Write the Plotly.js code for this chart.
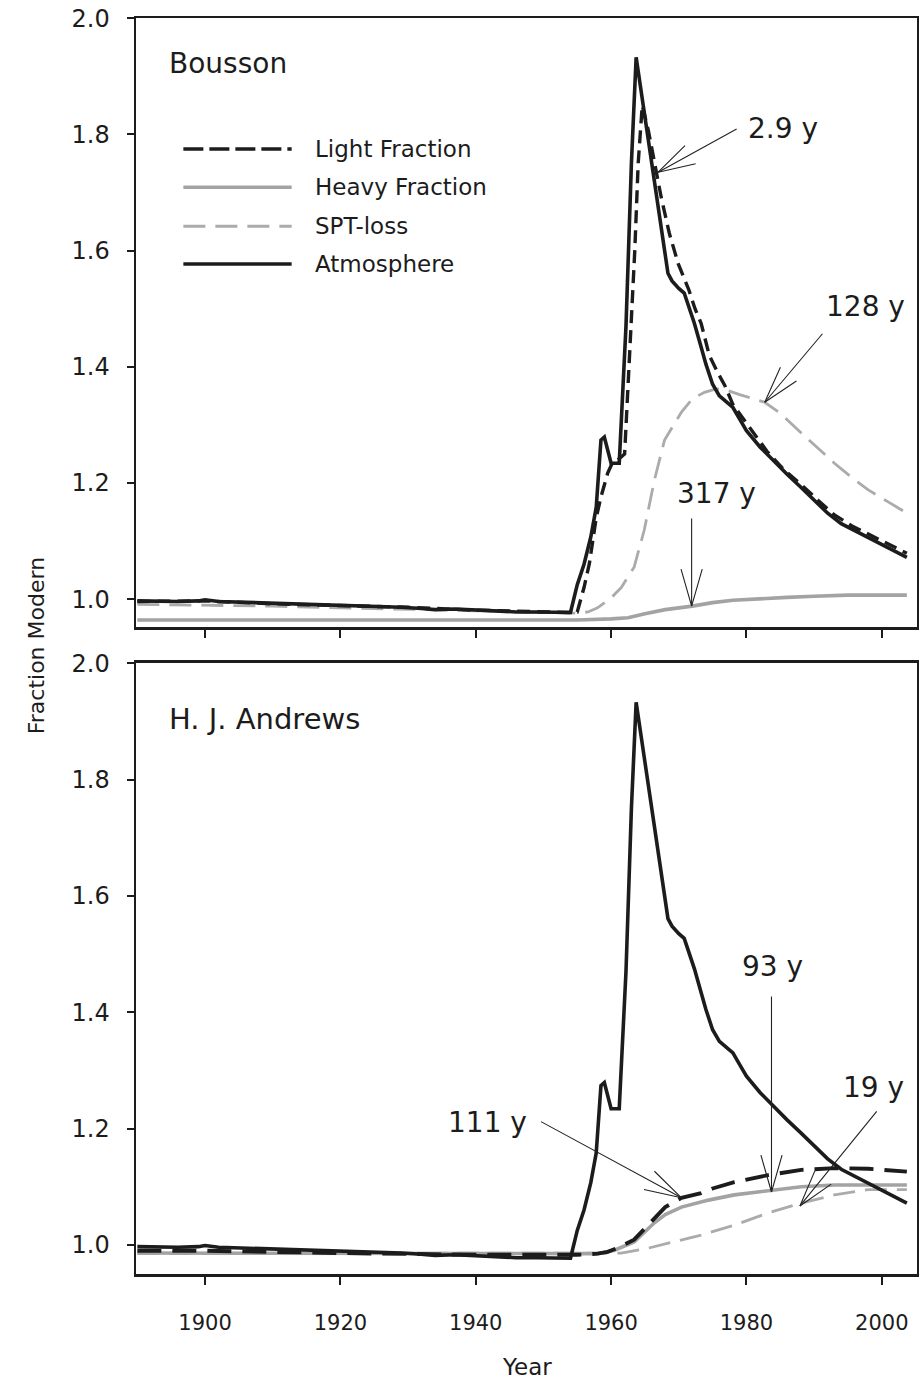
<!DOCTYPE html>
<html>
<head>
<meta charset="utf-8">
<script src="https://cdn.plot.ly/plotly-3.0.1.min.js"></script>
<style>html,body{margin:0;padding:0;background:#fff;}#chart{width:919px;height:1386px;}</style>
</head>
<body>
<div id="chart"></div>
<script>
// ---------- DATA ----------
const atmYears = [1890,1893,1896,1899,1900,1902,1905,1908,1911,1914,1917,1920,1923,1926,1929,1932,1934,1937,1940,1943,1946,1949,1952,1954,1955,1956,1957,1957.8,1958.5,1959,1960,1961.2,1962.2,1963,1963.7,1964,1965,1966,1967,1968,1968.4,1969,1970,1970.8,1972.3,1973.3,1974,1975,1976,1977,1978,1979,1980,1982,1984,1986,1988,1990,1992,1994,1996,1998,2000,2002,2003.7];
const atmValues = [0.997,0.996,0.996,0.997,0.999,0.996,0.995,0.994,0.992,0.992,0.991,0.989,0.988,0.987,0.986,0.984,0.982,0.983,0.981,0.980,0.978,0.978,0.977,0.977,1.025,1.060,1.107,1.158,1.274,1.279,1.234,1.234,1.470,1.750,1.933,1.909,1.830,1.751,1.672,1.593,1.561,1.548,1.535,1.527,1.475,1.434,1.405,1.370,1.350,1.340,1.330,1.310,1.290,1.262,1.238,1.215,1.193,1.170,1.148,1.130,1.118,1.107,1.095,1.083,1.072];

// Bousson
const bouLightYears = [1890,1900,1910,1920,1930,1940,1950,1954,1955,1956,1956.8,1957.8,1958.5,1959.5,1960.2,1961,1962,1962.9,1963.5,1964,1964.6,1965.5,1966.5,1967.4,1968.6,1969.9,1971.5,1972.4,1973.3,1974.5,1975.8,1976.8,1978,1980.7,1983,1985.6,1988,1990.6,1993,1995.6,1998,2000.5,2003.7];
const bouLight = [0.996,0.997,0.992,0.989,0.986,0.981,0.978,0.977,0.978,1.020,1.062,1.140,1.176,1.217,1.235,1.240,1.250,1.463,1.600,1.750,1.850,1.807,1.748,1.692,1.630,1.578,1.532,1.500,1.475,1.420,1.389,1.368,1.335,1.291,1.255,1.222,1.198,1.170,1.145,1.126,1.112,1.099,1.079];
const bouHeavyYears = [1890,1955,1960,1962.5,1965,1968,1972,1975,1978,1982,1986,1990,1995,2003.7];
const bouHeavy = [0.964,0.964,0.966,0.968,0.975,0.982,0.988,0.994,0.998,1.001,1.003,1.005,1.007,1.007];
const bouSptYears = [1890,1900,1910,1920,1930,1940,1950,1955,1956.6,1958,1960,1961.5,1963.4,1964.9,1966.4,1967.9,1970.4,1972,1973.8,1975.5,1977,1979,1982.7,1985,1988.1,1990.5,1993,1995.5,1998,2001,2003.7];
const bouSpt = [0.991,0.990,0.988,0.985,0.983,0.980,0.977,0.976,0.978,0.985,1.002,1.020,1.055,1.119,1.205,1.274,1.322,1.345,1.356,1.362,1.360,1.352,1.339,1.320,1.286,1.260,1.234,1.210,1.188,1.167,1.148];

// H. J. Andrews
const hjaLightYears = [1890,1900,1920,1940,1955,1958,1959.5,1961,1963.4,1965,1966.4,1968,1970.4,1973.3,1975,1978.2,1983.2,1988.1,1993,1998,2003.7];
const hjaLight = [0.990,0.990,0.986,0.983,0.983,0.985,0.988,0.995,1.009,1.028,1.046,1.065,1.081,1.089,1.097,1.108,1.120,1.129,1.132,1.131,1.126];
const hjaHeavyYears = [1890,1920,1958,1960.5,1963.4,1966.4,1968,1970.4,1974.4,1978.2,1983.7,1988.1,1993,2003.7];
const hjaHeavy = [0.986,0.985,0.985,0.991,1.005,1.038,1.052,1.065,1.077,1.086,1.094,1.100,1.103,1.103];
const hjaSptYears = [1890,1958,1961.5,1965,1968.4,1973.3,1978.2,1983.2,1988.1,1993,1998,2003.7];
const hjaSpt = [0.985,0.985,0.986,0.993,1.003,1.017,1.034,1.055,1.072,1.086,1.095,1.095];

const seriesNames = ["Light Fraction","Heavy Fraction","SPT-loss","Atmosphere"];
const panelNames = ["Bousson","H. J. Andrews"];
const yTickVals = [1.0,1.2,1.4,1.6,1.8,2.0];
const yTickText = ["1.0","1.2","1.4","1.6","1.8","2.0"];
const xTickVals = [1900,1920,1940,1960,1980,2000];
const xTickText = ["1900","1920","1940","1960","1980","2000"];
// annotation labels (turnover times)
const labelTexts = ["2.9 y","128 y","317 y","111 y","93 y","19 y"];

// ---------- STYLES ----------
const FONT = "DejaVu Sans";
const BLACK = "#1c1c1c";
const GRAY = "#a3a3a3";
const GRAY2 = "#ababab";
const sty = {
  lightTop: {color: BLACK, width: 3.4, dash: "13px,7px"},
  lightBot: {color: BLACK, width: 3.9, dash: "24px,11px"},
  heavy: {color: GRAY, width: 3.6},
  spt: {color: GRAY2, width: 2.8, dash: "22px,10px"},
  atm: {color: BLACK, width: 3.6}
};

const traces = [
  {x: bouSptYears, y: bouSpt, xaxis:"x", yaxis:"y", name: seriesNames[2], line: sty.spt},
  {x: bouHeavyYears, y: bouHeavy, xaxis:"x", yaxis:"y", name: seriesNames[1], line: sty.heavy},
  {x: atmYears, y: atmValues, xaxis:"x", yaxis:"y", name: seriesNames[3], line: sty.atm},
  {x: bouLightYears, y: bouLight, xaxis:"x", yaxis:"y", name: seriesNames[0], line: sty.lightTop},
  {x: hjaSptYears, y: hjaSpt, xaxis:"x2", yaxis:"y2", name: seriesNames[2], line: sty.spt},
  {x: hjaHeavyYears, y: hjaHeavy, xaxis:"x2", yaxis:"y2", name: seriesNames[1], line: sty.heavy},
  {x: atmYears, y: atmValues, xaxis:"x2", yaxis:"y2", name: seriesNames[3], line: sty.atm},
  {x: hjaLightYears, y: hjaLight, xaxis:"x2", yaxis:"y2", name: seriesNames[0], line: sty.lightBot}
].map(t => Object.assign({type:"scatter", mode:"lines", showlegend:false, hoverinfo:"skip"}, t));

const axisCommon = {
  showline: true, mirror: true, linecolor: BLACK, linewidth: 2.5,
  showgrid: false, zeroline: false, ticks: "outside", tickcolor: BLACK,
  tickwidth: 2, ticklen: 7
};
const xRange = [1889.8, 2005.2];
const layout = {
  width: 919, height: 1386,
  margin: {l: 136, r: 2, t: 18, b: 112},
  paper_bgcolor: "#fff", plot_bgcolor: "#fff",
  font: {family: FONT, color: BLACK},
  xaxis: Object.assign({}, axisCommon, {anchor:"y", range: xRange, tickvals: xTickVals, ticktext: xTickText, showticklabels: false, ticklen: 8}),
  yaxis: Object.assign({}, axisCommon, {anchor:"x", domain:[0.5151, 1], range:[0.952, 2.0005], tickvals: yTickVals, ticktext: yTickText, tickfont:{size:24, family: FONT, color: BLACK}, ticklabelstandoff: 12}),
  xaxis2: Object.assign({}, axisCommon, {anchor:"y2", range: xRange, tickvals: xTickVals, ticktext: xTickText, ticklen: 8, tickfont:{size:21, family: FONT, color: BLACK}, ticklabelstandoff: 20}),
  yaxis2: Object.assign({}, axisCommon, {anchor:"x2", domain:[0, 0.4865], range:[0.95, 2.0005], tickvals: yTickVals, ticktext: yTickText, tickfont:{size:24, family: FONT, color: BLACK}, ticklabelstandoff: 12}),
  shapes: [],
  annotations: []
};

// Axis titles
layout.annotations.push({xref:"paper", yref:"paper", x:-0.128, y:0.4998, text:"Fraction Modern", textangle:-90, showarrow:false, font:{size:22, family:FONT, color:BLACK}, xanchor:"center", yanchor:"middle"});
layout.annotations.push({xref:"paper", yref:"paper", x:0.5, y:-0.074, text:"Year", showarrow:false, font:{size:23, family:FONT, color:BLACK}, xanchor:"center", yanchor:"middle"});

// Panel titles
layout.annotations.push({xref:"x", yref:"y", x:1894.4, y:1.923, text:panelNames[0], showarrow:false, xanchor:"left", yanchor:"middle", font:{size:28, family:FONT, color:BLACK}});
layout.annotations.push({xref:"x2", yref:"y2", x:1894.4, y:1.905, text:panelNames[1], showarrow:false, xanchor:"left", yanchor:"middle", font:{size:29, family:FONT, color:BLACK}});

// Manual legend (top panel)
const legRows = [1.775, 1.709, 1.642, 1.577];
const legStyles = [sty.lightTop, sty.heavy, sty.spt, sty.atm];
const legDash = ["20px,6px", null, "22px,10px", null];
legRows.forEach((yy, i) => {
  const ln = Object.assign({}, legStyles[i]);
  if (legDash[i]) ln.dash = legDash[i];
  layout.shapes.push({type:"line", xref:"x", yref:"y", x0:1896.8, x1:1912.8, y0:yy, y1:yy, line: ln});
  layout.annotations.push({xref:"x", yref:"y", x:1916.0, y:yy, text:seriesNames[i], showarrow:false, xanchor:"left", yanchor:"middle", font:{size:23, family:FONT, color:BLACK}});
});

// Labels with arrows: text position, arrow tip, shaft tail offset (px)
const arrows = [
  {ax:"x", ay:"y", tx:1985.4, ty:1.811, px:1966.95, py:1.735, dx:80, dy:-44},
  {ax:"x", ay:"y", tx:1997.6, ty:1.503, px:1982.7, py:1.339, dx:59, dy:-70},
  {ax:"x", ay:"y", tx:1975.5, ty:1.182, px:1971.9, py:0.988, dx:0, dy:-89},
  {ax:"x2", ay:"y2", tx:1941.7, ty:1.211, px:1970.4, py:1.081, dx:-142, dy:-77},
  {ax:"x2", ay:"y2", tx:1983.9, ty:1.478, px:1983.7, py:1.091, dx:0, dy:-197},
  {ax:"x2", ay:"y2", tx:1998.7, ty:1.271, px:1987.9, py:1.067, dx:78, dy:-96}
];
const BARB = 40, ANG = 16 * Math.PI / 180;
arrows.forEach((a, i) => {
  layout.annotations.push({xref:a.ax, yref:a.ay, x:a.tx, y:a.ty, text:labelTexts[i], showarrow:false, xanchor:"center", yanchor:"middle", font:{size:28, family:FONT, color:BLACK}});
  const base = {xref:a.ax, yref:a.ay, x:a.px, y:a.py, text:"", showarrow:true, arrowhead:0, arrowwidth:1.1, arrowcolor:"#222", axref:"pixel", ayref:"pixel"};
  layout.annotations.push(Object.assign({}, base, {ax:a.dx, ay:a.dy}));
  const L = Math.hypot(a.dx, a.dy);
  const ux = a.dx / L, uy = a.dy / L;
  [ANG, -ANG].forEach(t => {
    const rx = ux * Math.cos(t) - uy * Math.sin(t);
    const ry = ux * Math.sin(t) + uy * Math.cos(t);
    layout.annotations.push(Object.assign({}, base, {ax: rx * BARB, ay: ry * BARB}));
  });
});

Plotly.newPlot("chart", traces, layout, {displayModeBar:false, staticPlot:true});
</script>
</body>
</html>
